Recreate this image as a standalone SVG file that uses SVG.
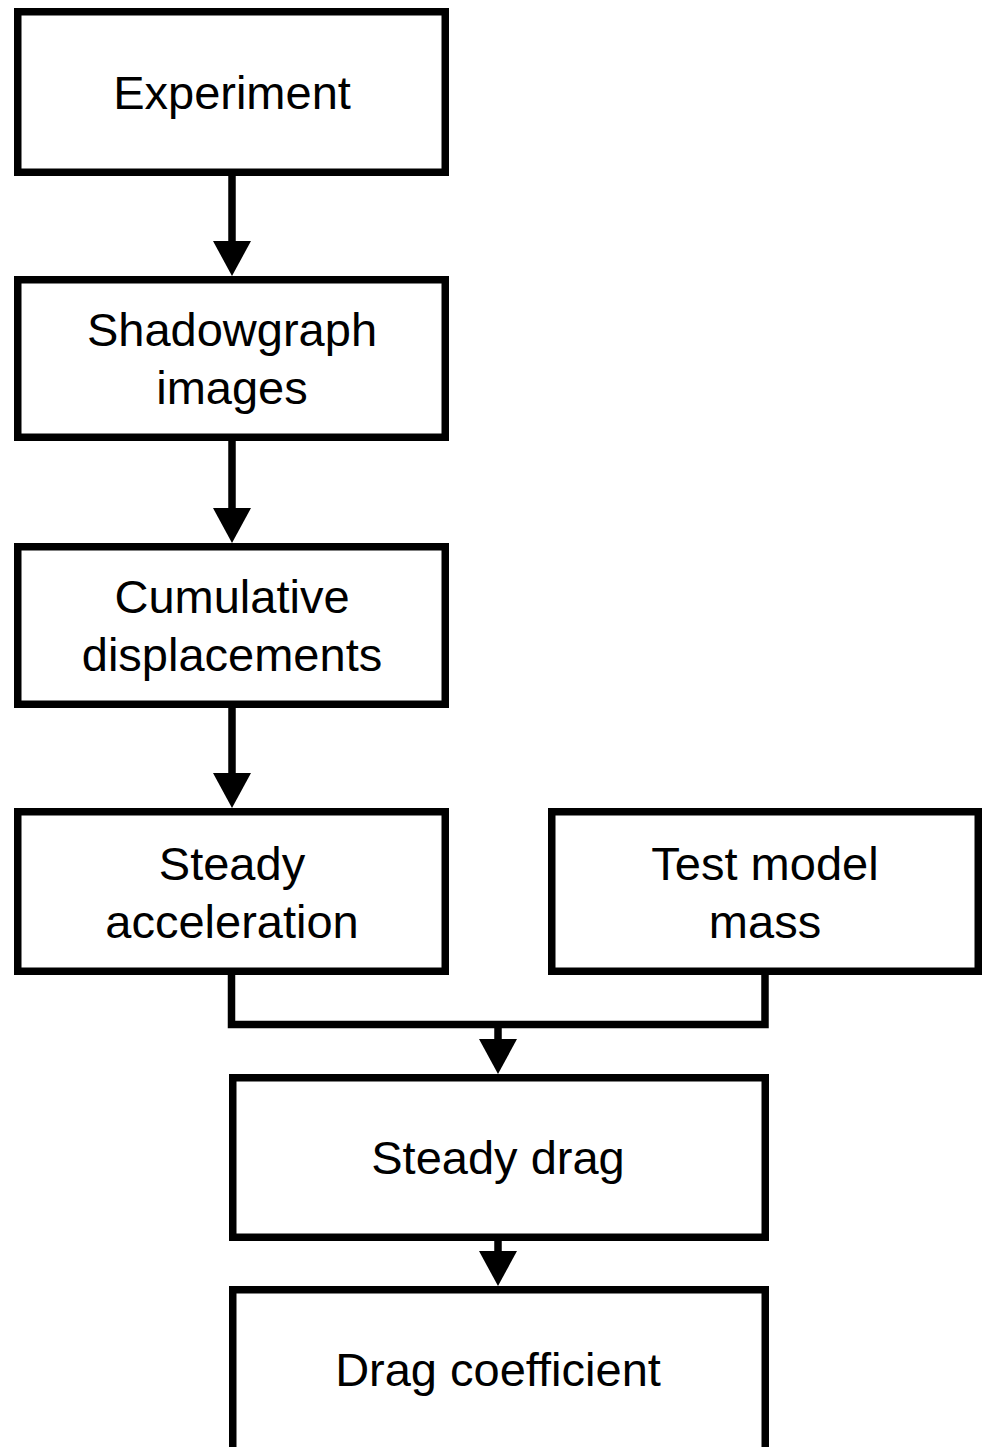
<svg xmlns="http://www.w3.org/2000/svg" width="984" height="1447" viewBox="0 0 984 1447">
<style>
.box{fill:#fff;stroke:#000;stroke-width:7.5}
.lbl{font-family:"Liberation Sans",Arial,sans-serif;font-size:47px;fill:#000;text-anchor:middle}
.con{fill:none;stroke:#000;stroke-width:7.5}
</style>
<defs>
<marker id="ah" markerUnits="userSpaceOnUse" viewBox="0 -19 35 38" markerWidth="35" markerHeight="38" refX="0" refY="0" orient="auto">
<path d="M0,-19 L35,0 L0,19 z" fill="#000"/>
</marker>
</defs>
<rect width="984" height="1447" fill="#fff"/>
<g id="connectors">
<line class="con" x1="232" y1="172" x2="232" y2="241" marker-end="url(#ah)"/>
<line class="con" x1="232" y1="437" x2="232" y2="508" marker-end="url(#ah)"/>
<line class="con" x1="232" y1="704" x2="232" y2="773" marker-end="url(#ah)"/>
<polyline class="con" points="231.5,971 231.5,1024.5 765,1024.5 765,971"/>
<line class="con" x1="498" y1="1024.5" x2="498" y2="1039" marker-end="url(#ah)"/>
<line class="con" x1="498" y1="1237" x2="498" y2="1251" marker-end="url(#ah)"/>
</g>
<g id="experiment">
<rect class="box" x="17.75" y="11.75" width="427.5" height="160.5"/>
<text class="lbl" x="232" y="109">Experiment</text>
</g>
<g id="shadowgraph">
<rect class="box" x="17.75" y="279.75" width="427.5" height="157.5"/>
<text class="lbl" x="232" y="346">Shadowgraph</text>
<text class="lbl" x="232" y="404">images</text>
</g>
<g id="cumulative">
<rect class="box" x="17.75" y="546.75" width="427.5" height="157.5"/>
<text class="lbl" x="232" y="613">Cumulative</text>
<text class="lbl" x="232" y="671">displacements</text>
</g>
<g id="steady-acceleration">
<rect class="box" x="17.75" y="811.75" width="427.5" height="159.5"/>
<text class="lbl" x="232" y="880">Steady</text>
<text class="lbl" x="232" y="938">acceleration</text>
</g>
<g id="test-model-mass">
<rect class="box" x="551.75" y="811.75" width="426.5" height="159.5"/>
<text class="lbl" x="765" y="880">Test model</text>
<text class="lbl" x="765" y="938">mass</text>
</g>
<g id="steady-drag">
<rect class="box" x="232.75" y="1077.75" width="532.5" height="159.5"/>
<text class="lbl" x="498" y="1174">Steady drag</text>
</g>
<g id="drag-coefficient">
<rect class="box" x="232.75" y="1289.75" width="532.5" height="165"/>
<text class="lbl" x="498" y="1386">Drag coefficient</text>
</g>
</svg>
